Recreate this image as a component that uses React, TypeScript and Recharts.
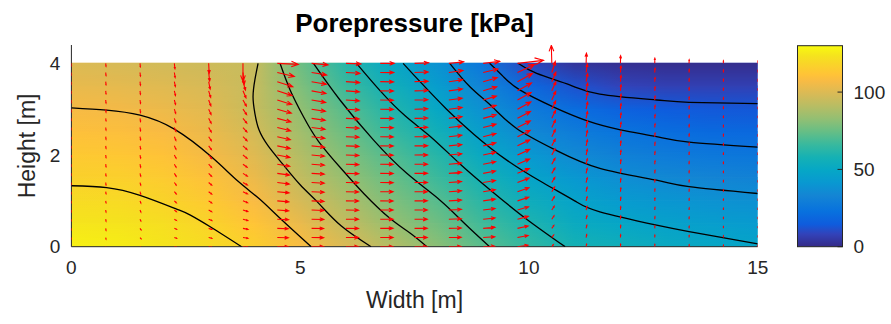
import React from 'react';
import { ComposedChart, XAxis, YAxis, Scatter, ReferenceArea } from 'recharts';

// ---------- pressure field (kPa) ----------
const X_GRID = [0, 1, 2, 3, 4, 5, 6, 7, 8, 9, 10, 11, 12, 13, 14, 15];
const Y_GRID = [0, 0.5, 1, 1.5, 2, 2.5, 3, 3.5, 4];
const P_Y00 = [127.4, 126.5, 124.0, 121.0, 116.0, 108.3, 99.5, 90.1, 81.3, 72.2, 64.7, 57.6, 55.5, 52.0, 50.1, 48.0];
const P_Y05 = [124.0, 123.5, 121.5, 117.7, 111.7, 103.5, 93.3, 83.8, 76.4, 67.4, 59.8, 52.4, 49.1, 46.5, 44.3, 42.6];
const P_Y10 = [120.5, 120.0, 117.8, 113.9, 107.4, 98.2, 88.5, 79.1, 71.5, 62.6, 54.1, 47.3, 43.0, 40.4, 38.5, 37.2];
const P_Y15 = [117.0, 116.5, 114.4, 110.2, 103.9, 93.4, 83.6, 74.7, 66.6, 57.4, 48.3, 41.0, 37.0, 34.4, 32.6, 31.5];
const P_Y20 = [113.6, 112.9, 111.0, 106.4, 100.7, 89.8, 79.4, 70.2, 61.7, 51.0, 41.5, 34.7, 30.6, 28.2, 26.5, 25.6];
const P_Y25 = [110.1, 109.5, 107.6, 103.8, 97.4, 86.2, 75.3, 65.4, 56.1, 44.7, 34.6, 28.3, 24.2, 21.7, 20.2, 19.5];
const P_Y30 = [106.6, 106.0, 104.1, 101.2, 94.4, 82.7, 71.3, 60.6, 49.9, 38.4, 27.9, 21.0, 16.3, 14.4, 13.6, 13.3];
const P_Y35 = [103.1, 102.2, 100.7, 98.5, 94.3, 79.1, 66.7, 55.4, 44.1, 32.0, 19.7, 11.8, 8.2, 7.1, 7.1, 7.1];
const P_Y40 = [99.7, 98.4, 97.2, 95.9, 94.7, 75.6, 62.0, 50.2, 38.6, 25.5, 9.0, 3.0, 1.5, 1.0, 0.8, 0.9];
const PRESSURE_ROWS = [P_Y00, P_Y05, P_Y10, P_Y15, P_Y20, P_Y25, P_Y30, P_Y35, P_Y40];

const C_MIN = 0;
const C_MAX = 130;
const CBAR_TICKS = [0, 50, 100];
const X_TICKS = [0, 5, 10, 15];
const Y_TICKS = [0, 2, 4];

// ---------- contour lines (x, y in m) ----------
const CONTOUR_118 = [
  { x: 0, y: 1.33 }, { x: 0.77, y: 1.29 }, { x: 1.5, y: 1.12 }, { x: 2.3, y: 0.82 },
  { x: 2.6, y: 0.69 }, { x: 3.06, y: 0.42 }, { x: 3.72, y: 0 },
];
const CONTOUR_106 = [
  { x: 0, y: 3.03 }, { x: 0.77, y: 2.98 }, { x: 1.5, y: 2.87 }, { x: 2.26, y: 2.56 },
  { x: 3.06, y: 1.96 }, { x: 3.65, y: 1.42 }, { x: 4.1, y: 1.05 }, { x: 4.56, y: 0.62 }, { x: 5.24, y: 0 },
];
const CONTOUR_95 = [
  { x: 4.08, y: 4 }, { x: 4.01, y: 3.64 }, { x: 3.97, y: 3.27 }, { x: 4.01, y: 2.91 },
  { x: 4.1, y: 2.55 }, { x: 4.3, y: 2.2 }, { x: 4.62, y: 1.8 }, { x: 5.0, y: 1.35 },
  { x: 5.4, y: 0.95 }, { x: 5.9, y: 0.45 }, { x: 6.55, y: 0 },
];
const CONTOUR_83 = [
  { x: 4.56, y: 4 }, { x: 4.78, y: 3.42 }, { x: 5.07, y: 2.84 }, { x: 5.4, y: 2.3 },
  { x: 5.9, y: 1.7 }, { x: 6.4, y: 1.15 }, { x: 6.96, y: 0.62 }, { x: 7.4, y: 0.3 }, { x: 7.77, y: 0 },
];
const CONTOUR_71 = [
  { x: 5.29, y: 4 }, { x: 5.87, y: 3.2 }, { x: 6.6, y: 2.33 }, { x: 7.33, y: 1.6 },
  { x: 8.05, y: 1.02 }, { x: 8.6, y: 0.5 }, { x: 9.14, y: 0 },
];
const CONTOUR_59 = [
  { x: 6.23, y: 4 }, { x: 6.75, y: 3.4 }, { x: 7.3, y: 2.85 }, { x: 7.85, y: 2.4 },
  { x: 8.5, y: 1.8 }, { x: 9.2, y: 1.2 }, { x: 9.95, y: 0.6 }, { x: 10.79, y: 0 },
];
const CONTOUR_47 = [
  { x: 7.25, y: 4 }, { x: 7.62, y: 3.6 }, { x: 8.2, y: 3.0 }, { x: 8.8, y: 2.45 },
  { x: 9.5, y: 1.9 }, { x: 10.3, y: 1.4 }, { x: 11.0, y: 1.0 }, { x: 11.55, y: 0.76 },
  { x: 12.79, y: 0.47 }, { x: 13.5, y: 0.33 }, { x: 15, y: 0.06 },
];
const CONTOUR_35 = [
  { x: 8.27, y: 4 }, { x: 8.71, y: 3.49 }, { x: 9.2, y: 3.05 }, { x: 9.73, y: 2.58 },
  { x: 10.6, y: 2.1 }, { x: 11.55, y: 1.71 }, { x: 12.79, y: 1.45 }, { x: 13.5, y: 1.31 }, { x: 15, y: 1.16 },
];
const CONTOUR_24 = [
  { x: 9.14, y: 4 }, { x: 9.44, y: 3.71 }, { x: 9.8, y: 3.42 }, { x: 10.53, y: 3.05 },
  { x: 11.26, y: 2.75 }, { x: 12.0, y: 2.55 }, { x: 12.79, y: 2.4 }, { x: 13.5, y: 2.28 }, { x: 15, y: 2.17 },
];
const CONTOUR_12 = [
  { x: 9.76, y: 4 }, { x: 10.17, y: 3.78 }, { x: 10.89, y: 3.53 }, { x: 11.55, y: 3.33 },
  { x: 12.79, y: 3.2 }, { x: 13.5, y: 3.15 }, { x: 15, y: 3.12 },
];
const CONTOURS = [CONTOUR_118, CONTOUR_106, CONTOUR_95, CONTOUR_83, CONTOUR_71, CONTOUR_59, CONTOUR_47, CONTOUR_35, CONTOUR_24, CONTOUR_12];

// ---------- flow vectors (quiver), columns bottom -> top ----------
const QUIVER_X = [0, 0.75, 1.5, 2.25, 3, 3.75, 4.5, 5.25, 6, 6.75, 7.5, 8.25, 9, 9.75, 10.5, 11.25, 12, 12.75, 13.5, 14.25, 15];
const QUIVER_Y = [0, 0.2, 0.4, 0.6, 0.8, 1, 1.2, 1.4, 1.6, 1.8, 2, 2.2, 2.4, 2.6, 2.8, 3, 3.2, 3.4, 3.6, 3.8, 4];
const QUIVER_U = [
  [0, 0, 0, 0, 0, 0, 0, 0, 0, 0, 0, 0, 0, 0, 0, 0, 0, 0, 0, 0, 0],
  [0.3, 0.3, 0.3, 0.3, 0.3, 0.3, 0.3, 0.3, 0.3, 0.3, 0.3, 0.3, 0.3, 0.3, 0.3, 0.3, 0.3, 0.3, 0.3, 0.3, 0.3],
  [1, 1, 1, 0.8, 0.8, 0.8, 0.7, 0.7, 0.7, 0.6, 0.6, 0.6, 0.6, 0.5, 0.5, 0.5, 0.5, 0.4, 0.4, 0.4, 0.3],
  [2.2, 2.2, 2.2, 2, 2, 2, 1.9, 1.8, 1.8, 1.7, 1.7, 1.6, 1.5, 1.5, 1.4, 1.3, 1.2, 1.1, 1, 0.8, 0.6],
  [3.2, 3.2, 3.2, 3.2, 3, 3, 3, 3, 2.9, 2.9, 2.8, 2.8, 2.7, 2.6, 2.5, 2.4, 2.2, 2, 1.5, 1, 0.5],
  [5, 5, 5, 4.8, 4.8, 4.6, 4.5, 4.4, 4.3, 4.2, 4.1, 4, 4, 3.9, 3.8, 3.6, 3.4, 3, 2.5, 1.2, 0],
  [11, 11, 11, 11.2, 11.4, 11.6, 11.8, 12, 12.2, 12.4, 12.6, 12.8, 13, 13.3, 13.6, 14, 14.4, 14.8, 15.5, 17, 21],
  [12, 12, 12, 12.2, 12.3, 12.4, 12.5, 12.6, 12.7, 12.8, 12.9, 13, 13.2, 13.4, 13.6, 13.8, 14, 14.3, 14.6, 15, 16.5],
  [12.5, 12.5, 12.5, 12.5, 12.6, 12.6, 12.7, 12.7, 12.8, 12.8, 12.9, 13, 13, 13.1, 13.2, 13.3, 13.4, 13.5, 13.7, 14, 15],
  [12.8, 12.8, 12.8, 12.8, 12.8, 12.8, 12.8, 12.9, 12.9, 12.9, 12.9, 13, 13, 13, 13, 13.1, 13.1, 13.2, 13.3, 13.5, 14],
  [12.6, 12.6, 12.7, 12.7, 12.7, 12.8, 12.8, 12.8, 12.9, 12.9, 12.9, 13, 13, 13, 13.1, 13.1, 13.2, 13.3, 13.4, 13.6, 14],
  [12.3, 12.3, 12.4, 12.4, 12.5, 12.5, 12.6, 12.6, 12.7, 12.7, 12.8, 12.8, 12.9, 13, 13.1, 13.2, 13.3, 13.5, 13.7, 14, 14.8],
  [11.5, 11.6, 11.7, 11.8, 11.9, 12, 12.1, 12.2, 12.3, 12.4, 12.5, 12.6, 12.7, 12.8, 12.9, 13, 13.2, 13.5, 14, 14.8, 16.5],
  [10.5, 10.6, 10.7, 10.8, 11, 11.2, 11.4, 11.6, 11.8, 12, 12.2, 12.4, 12.6, 12.8, 13, 13.3, 13.6, 14, 15, 17, 26],
  [1.5, 1.8, 2, 2.2, 2.4, 2.6, 2.8, 3, 3.1, 3.2, 3.3, 3.4, 3.5, 3.6, 3.7, 3.8, 3.9, 4, 4, 3.5, -0.5],
  [0.5, 0.6, 0.7, 0.8, 0.9, 1, 1, 1.1, 1.1, 1.2, 1.2, 1.3, 1.3, 1.4, 1.4, 1.5, 1.5, 1.5, 1.5, 1.2, 0.3],
  [0.2, 0.2, 0.3, 0.3, 0.3, 0.4, 0.4, 0.4, 0.5, 0.5, 0.5, 0.5, 0.6, 0.6, 0.6, 0.6, 0.6, 0.6, 0.6, 0.5, 0.2],
  [0.1, 0.1, 0.1, 0.2, 0.2, 0.2, 0.2, 0.2, 0.3, 0.3, 0.3, 0.3, 0.3, 0.3, 0.3, 0.3, 0.3, 0.3, 0.3, 0.3, 0.1],
  [0.1, 0.1, 0.1, 0.1, 0.1, 0.1, 0.1, 0.1, 0.1, 0.1, 0.1, 0.1, 0.1, 0.1, 0.1, 0.1, 0.1, 0.1, 0.1, 0.1, 0.1],
  [0, 0, 0, 0, 0, 0, 0, 0, 0, 0, 0, 0, 0, 0, 0, 0, 0, 0, 0, 0, 0],
  [0, 0, 0, 0, 0, 0, 0, 0, 0, 0, 0, 0, 0, 0, 0, 0, 0, 0, 0, 0, 0],
];
const QUIVER_V = [
  [-1.5, -1.5, -1.5, -1.5, -2, -2, -2, -2, -2, -2, -2, -2, -2, -2, -2, -2.5, -2.5, -2.5, -2.5, -2.5, -2.5],
  [-1.5, -1.5, -2, -2, -2, -2, -2, -2.5, -2.5, -2.5, -2.5, -2.5, -2.5, -2.5, -2.5, -3, -3, -3, -3, -3, -3],
  [-1, -1.2, -1.5, -1.8, -2, -2.2, -2.4, -2.6, -2.8, -3, -3, -3, -3.2, -3.2, -3.2, -3.4, -3.4, -3.5, -3.5, -3.5, -3.5],
  [-0.5, -0.8, -1, -1.3, -1.6, -1.9, -2.2, -2.5, -2.8, -3, -3.2, -3.4, -3.6, -3.8, -4, -4.2, -4.4, -4.6, -4.8, -5, -5.5],
  [-0.5, -0.8, -1.1, -1.4, -1.7, -2, -2.3, -2.6, -2.9, -3.2, -3.5, -3.8, -4.1, -4.4, -4.8, -5.2, -5.8, -6.5, -7.5, -8.5, -10],
  [-0.5, -0.8, -1, -1.3, -1.6, -1.9, -2.2, -2.5, -2.8, -3.1, -3.4, -3.7, -4, -4.4, -4.8, -5.3, -6, -7, -8.5, -12, -18],
  [0, -0.2, -0.4, -0.6, -0.8, -1, -1.2, -1.5, -1.8, -2.1, -2.4, -2.7, -3, -3.3, -3.6, -4, -4.4, -4.8, -5, -4, -1],
  [0, -0.1, -0.2, -0.3, -0.4, -0.5, -0.6, -0.7, -0.8, -1, -1.2, -1.4, -1.6, -1.8, -2, -2.2, -2.4, -2.6, -2.6, -2.4, -1.5],
  [0, 0, -0.1, -0.1, -0.2, -0.2, -0.3, -0.3, -0.4, -0.4, -0.5, -0.5, -0.6, -0.6, -0.7, -0.8, -0.9, -1, -1, -0.8, -0.5],
  [0, 0, 0, 0, 0, -0.1, -0.1, -0.1, -0.1, -0.2, -0.2, -0.2, -0.2, -0.2, -0.2, -0.2, -0.2, -0.2, -0.2, -0.1, 0],
  [0, 0, 0, 0, 0, 0, 0, 0, 0, 0, 0.1, 0.1, 0.1, 0.2, 0.2, 0.3, 0.3, 0.4, 0.4, 0.5, 0.5],
  [0.2, 0.3, 0.4, 0.5, 0.6, 0.7, 0.8, 0.9, 1, 1.1, 1.2, 1.3, 1.4, 1.5, 1.6, 1.7, 1.8, 1.9, 2, 2, 1.5],
  [0.5, 0.8, 1, 1.2, 1.5, 1.7, 1.9, 2.1, 2.3, 2.5, 2.7, 2.9, 3.1, 3.3, 3.5, 3.7, 3.9, 4, 4, 3.5, 2],
  [1.5, 2, 2.4, 2.8, 3.2, 3.6, 4, 4.4, 4.8, 5.2, 5.6, 6, 6.3, 6.6, 6.9, 7.2, 7.5, 7.8, 8.2, 8, 3],
  [2, 2.5, 3, 3.4, 3.8, 4.2, 4.6, 5, 5.4, 5.8, 6.2, 6.6, 7, 7.4, 7.8, 8.2, 8.6, 9, 9.5, 11, 18],
  [2.5, 2.8, 3.1, 3.4, 3.7, 4, 4.3, 4.6, 4.9, 5.2, 5.5, 5.8, 6.1, 6.4, 6.7, 7, 7.3, 7.6, 8, 8.5, 10],
  [2.5, 2.7, 2.9, 3.1, 3.3, 3.5, 3.7, 3.9, 4.1, 4.3, 4.5, 4.7, 4.9, 5.1, 5.3, 5.5, 5.7, 5.9, 6.1, 6.4, 7.5],
  [2.2, 2.3, 2.4, 2.5, 2.6, 2.7, 2.8, 2.9, 3, 3.1, 3.2, 3.3, 3.4, 3.5, 3.6, 3.7, 3.8, 3.9, 4, 4.2, 5],
  [1.8, 1.9, 2, 2, 2.1, 2.2, 2.2, 2.3, 2.4, 2.4, 2.5, 2.6, 2.6, 2.7, 2.8, 2.8, 2.9, 3, 3, 3.1, 3.5],
  [1.5, 1.5, 1.6, 1.6, 1.7, 1.7, 1.8, 1.8, 1.9, 1.9, 2, 2, 2.1, 2.1, 2.2, 2.2, 2.3, 2.3, 2.4, 2.4, 2.6],
  [1.3, 1.3, 1.4, 1.4, 1.5, 1.5, 1.5, 1.6, 1.6, 1.6, 1.7, 1.7, 1.7, 1.8, 1.8, 1.8, 1.9, 1.9, 1.9, 2, 2.2],
];

const QUIVER_POINTS = QUIVER_X.flatMap((x, i) =>
  QUIVER_Y.map((y, j) => ({ x, y, u: QUIVER_U[i][j], v: QUIVER_V[i][j] }))
);

// colour bar extent as data for its own little chart
const CBAR_EXTENT = [
  { x: 0, y: C_MIN },
  { x: 1, y: C_MAX },
];

// ---------- styling ----------
const FONT = '"Liberation Sans", Arial, Helvetica, sans-serif';
const AXIS_COLOR = '#262626';
const ARROW_PX = 1;

// parula colormap anchors [t, r, g, b]
const PARULA: number[][] = [
  [0, 0.2081, 0.1663, 0.5292],
  [0.0635, 0.1959, 0.2645, 0.7279],
  [0.111, 0.0591, 0.3598, 0.8683],
  [0.175, 0.0329, 0.443, 0.872],
  [0.254, 0.0793, 0.52, 0.8312],
  [0.317, 0.0343, 0.5966, 0.8199],
  [0.381, 0.0228, 0.6535, 0.7768],
  [0.444, 0.0843, 0.6928, 0.7062],
  [0.508, 0.2178, 0.725, 0.6193],
  [0.571, 0.3953, 0.7459, 0.5244],
  [0.635, 0.5709, 0.7485, 0.4494],
  [0.698, 0.7184, 0.7411, 0.3905],
  [0.762, 0.8507, 0.7299, 0.336],
  [0.825, 0.9739, 0.7314, 0.2666],
  [0.857, 0.999, 0.7653, 0.2164],
  [0.905, 0.9789, 0.8271, 0.1633],
  [0.952, 0.9589, 0.8949, 0.1132],
  [1, 0.9763, 0.9831, 0.0538],
];

function parula(t: number): string {
  const tt = Math.max(0, Math.min(1, t));
  let k = 0;
  while (k < PARULA.length - 2 && PARULA[k + 1][0] < tt) k++;
  const a = PARULA[k];
  const b = PARULA[k + 1];
  const f = (tt - a[0]) / (b[0] - a[0]);
  const c = [1, 2, 3].map((i) => Math.round(255 * (a[i] + f * (b[i] - a[i]))));
  return `rgb(${c[0]},${c[1]},${c[2]})`;
}

const X_MIN = X_GRID[0];
const X_MAX = X_GRID[X_GRID.length - 1];

function Defs() {
  return (
    <svg width={0} height={0} style={{ position: 'absolute' }}>
      <defs>
        {PRESSURE_ROWS.map((row, j) => (
          <linearGradient key={j} id={`prow${j}`} x1="0" y1="0" x2="1" y2="0">
            {row.map((p, i) => (
              <stop
                key={i}
                offset={(X_GRID[i] - X_MIN) / (X_MAX - X_MIN)}
                stopColor={parula((p - C_MIN) / (C_MAX - C_MIN))}
              />
            ))}
          </linearGradient>
        ))}
        <linearGradient id="vfadeGrad" x1="0" y1="0" x2="0" y2="1">
          <stop offset="0" stopColor="#fff" stopOpacity={1} />
          <stop offset="1" stopColor="#fff" stopOpacity={0} />
        </linearGradient>
        <mask id="vfade" maskContentUnits="objectBoundingBox" style={{ maskType: 'alpha' } as any}>
          <rect x={0} y={0} width={1} height={1} fill="url(#vfadeGrad)" />
        </mask>
        <linearGradient id="cbar" x1="0" y1="1" x2="0" y2="0">
          {PARULA.map((a, i) => (
            <stop key={i} offset={a[0]} stopColor={parula(a[0])} />
          ))}
        </linearGradient>
      </defs>
    </svg>
  );
}

const makeBand = (j: number) => (props: any) => {
  const { x, y, width, height } = props;
  if (x == null || y == null) return <g />;
  return (
    <g>
      <rect x={x} y={y - 0.6} width={width} height={height + 0.6} fill={`url(#prow${j})`} />
      <rect x={x} y={y - 0.6} width={width} height={height + 0.6} fill={`url(#prow${j + 1})`} mask="url(#vfade)" />
    </g>
  );
};

function Arrow(props: any) {
  const { cx, cy, payload } = props;
  if (cx == null || cy == null || !payload) return <g />;
  const dx = payload.u * ARROW_PX;
  const dy = -payload.v * ARROW_PX;
  const tx = cx + dx;
  const ty = cy + dy;
  const a = 0.33;
  const b = 0.4;
  const h1x = tx - a * (dx - b * dy);
  const h1y = ty - a * (dy + b * dx);
  const h2x = tx - a * (dx + b * dy);
  const h2y = ty - a * (dy - b * dx);
  return (
    <path
      d={`M${cx},${cy}L${tx},${ty}M${h1x},${h1y}L${tx},${ty}L${h2x},${h2y}`}
      stroke="#ff0000"
      strokeWidth={1.1}
      fill="none"
    />
  );
}

const NoDot = () => <g />;

function ColorBarShape(props: any) {
  const { x, y, width, height } = props;
  if (x == null || y == null) return <g />;
  return <rect x={x} y={y} width={width} height={height} fill="url(#cbar)" stroke={AXIS_COLOR} strokeWidth={1} />;
}

export default function App() {
  const tickStyle = { fill: AXIS_COLOR, fontSize: 19, fontFamily: FONT };
  return (
    <div style={{ position: 'absolute', left: 0, top: 0, width: 891, height: 324, background: '#fff' }}>
      <Defs />
      <div style={{ position: 'absolute', left: 0, top: 0 }}>
        <ComposedChart width={891} height={324} margin={{ top: 45, right: 133.3, bottom: 47.3, left: 31.4 }}>
          <XAxis
            type="number"
            dataKey="x"
            domain={[0, 15]}
            ticks={X_TICKS}
            tickSize={0}
            tickMargin={14}
            height={30}
            axisLine={{ stroke: AXIS_COLOR }}
            tickLine={false}
            tick={tickStyle}
            allowDataOverflow
          />
          <YAxis
            type="number"
            dataKey="y"
            domain={[0, 4.4]}
            ticks={Y_TICKS}
            tickSize={0}
            tickMargin={11}
            width={40}
            axisLine={{ stroke: AXIS_COLOR }}
            tickLine={false}
            tick={tickStyle}
            allowDataOverflow
          />
          {Y_GRID.slice(0, -1).map((y0, j) => (
            <ReferenceArea
              key={`band${j}`}
              x1={X_MIN}
              x2={X_MAX}
              y1={y0}
              y2={Y_GRID[j + 1]}
              shape={makeBand(j)}
              fillOpacity={1}
            />
          ))}
          {CONTOURS.map((c, k) => (
            <Scatter
              key={`c${k}`}
              data={c}
              line={{ stroke: '#000', strokeWidth: 1.3 }}
              lineJointType="natural"
              stroke="#000"
              shape={NoDot}
              isAnimationActive={false}
              legendType="none"
            />
          ))}
          <Scatter data={QUIVER_POINTS} shape={Arrow} isAnimationActive={false} legendType="none" />
        </ComposedChart>
      </div>
      <div style={{ position: 'absolute', left: 780, top: 0 }}>
        <ComposedChart width={111} height={324} margin={{ top: 45.7, right: 8.5, bottom: 47.3, left: 17.5 }}>
          <XAxis type="number" dataKey="x" domain={[0, 1]} height={30} axisLine={false} tickLine={false} tick={false} />
          <YAxis
            type="number"
            dataKey="y"
            orientation="right"
            domain={[C_MIN, C_MAX]}
            ticks={CBAR_TICKS}
            width={40}
            tickSize={-5}
            tickMargin={16}
            axisLine={false}
            tickLine={{ stroke: AXIS_COLOR }}
            tick={tickStyle}
            allowDataOverflow
          />
          <ReferenceArea x1={0} x2={1} y1={C_MIN} y2={C_MAX} shape={ColorBarShape} fillOpacity={1} />
          <Scatter data={CBAR_EXTENT} shape={NoDot} isAnimationActive={false} legendType="none" />
        </ComposedChart>
      </div>
      <svg width={891} height={324} style={{ position: 'absolute', left: 0, top: 0, pointerEvents: 'none' }}>
        <text x={414.5} y={32} textAnchor="middle" fontFamily={FONT} fontWeight="bold" fontSize={26} fill="#000">
          Porepressure [kPa]
        </text>
        <text x={414.5} y={308} textAnchor="middle" fontFamily={FONT} fontSize={23} fill={AXIS_COLOR}>
          Width [m]
        </text>
        <text
          x={0}
          y={0}
          transform="translate(35,145.9) rotate(-90)"
          textAnchor="middle"
          fontFamily={FONT}
          fontSize={23}
          fill={AXIS_COLOR}
        >
          Height [m]
        </text>
      </svg>
    </div>
  );
}
